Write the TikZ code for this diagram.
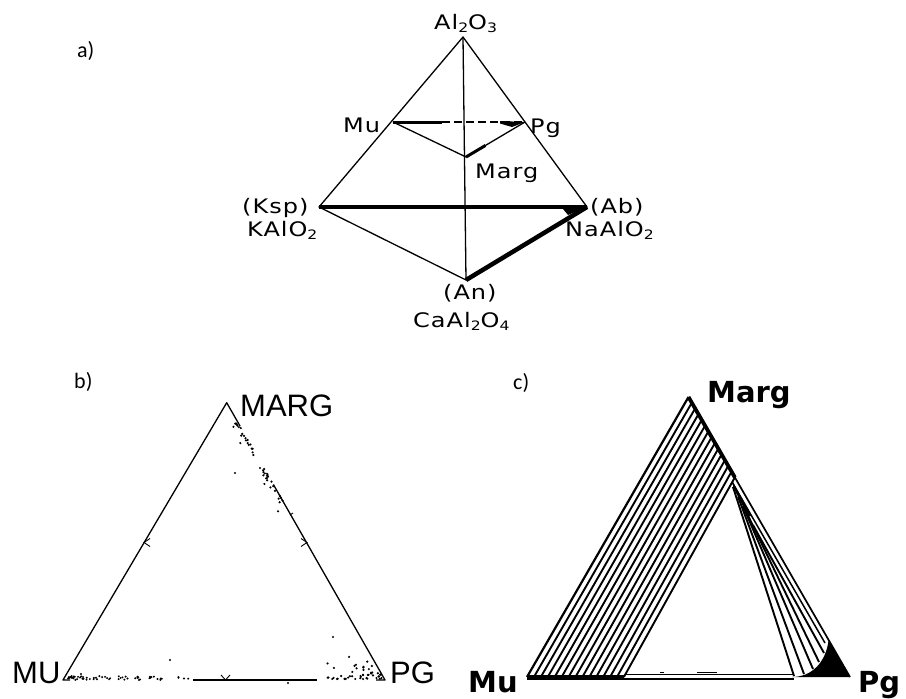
\documentclass[tikz,border=0pt]{standalone}
\usepackage{fontspec}
\setmainfont{Liberation Sans}
\newfontfamily\letfont[FakeStretch=1.2,LetterSpace=5]{DejaVu Sans}
\newfontfamily\bigfont{DejaVu Sans}
\newfontfamily\tagfont{Carlito}
\usetikzlibrary{calc}
\tikzset{
  edge/.style={line width=1.3pt, line join=round},
  tie/.style={line width=1.9pt},
  lbla/.style={anchor=base west, inner sep=0pt, font=\letfont\fontsize{20}{20}\selectfont},
  lblb/.style={anchor=base west, inner sep=0pt, font=\fontsize{31}{31}\selectfont},
  lblc/.style={anchor=base west, inner sep=0pt, font=\bigfont\bfseries\fontsize{29}{29}\selectfont},
  part/.style={anchor=base west, inner sep=0pt, font=\tagfont\fontsize{22}{22}\selectfont},
}
\newcommand{\lowidx}[1]{\raisebox{-0.35ex}{\fontsize{13}{13}\selectfont #1}}

\begin{document}
\begin{tikzpicture}[x=1pt, y=-1pt]
  \useasboundingbox (0,0) rectangle (906,699);

  % a) the tetrahedron Al2O3 - KAlO2 - NaAlO2 - CaAl2O4
  \coordinate (al) at (463,37);
  \coordinate (mu) at (393,122);
  \coordinate (pg) at (525,122);
  \coordinate (marg) at (466,157);
  \coordinate (ksp) at (319,207);
  \coordinate (ab) at (587,207);
  \coordinate (an) at (466,280);

  \draw[edge] (al) -- (ksp) -- (an) -- (ab) -- cycle;
  \draw[edge] (al) -- (an);
  \draw[edge] (mu) -- (marg) -- (pg);
  \draw[line width=4.5pt] (ksp) -- (ab);
  \draw[line width=4.5pt] (ab) -- (an);
  \fill (ab) -- (563,209) -- (568,215) -- cycle;
  \draw[line width=3pt] (mu) -- (442,122);
  \draw[edge, dash pattern=on 8pt off 4pt] (442,122) -- (pg);
  \fill (pg) -- (500,121) -- (500,123.5) -- (512,127) -- cycle;
  \draw[line width=3pt] (marg) -- ($(marg)!0.33!(pg)$);

  \node[part] (ta) at (77,57) {a)};
  \node[lbla] (lal) at (434,29) {Al\lowidx{2}O\lowidx{3}};
  \node[lbla] (lmu) at (343,132) {Mu};
  \node[lbla] (lpg) at (530,133) {Pg};
  \node[lbla] (lmarg) at (475,178) {Marg};
  \node[lbla] (lksp) at (242,213) {(Ksp)};
  \node[lbla] (lkal) at (247,236) {KAlO\lowidx{2}};
  \node[lbla] (lab) at (590,213) {(Ab)};
  \node[lbla] (lnal) at (565,236) {NaAlO\lowidx{2}};
  \node[lbla] (lan) at (443,299) {(An)};
  \node[lbla] (lcal) at (413,327) {CaAl\lowidx{2}O\lowidx{4}};

  % b) analyses plotted in Mu - Marg - Pg
  \coordinate (bm) at (226.7,402.7);
  \coordinate (bu) at (63,680);
  \coordinate (bp) at (385,680);

  \draw[edge] (70,680) -- (bu) -- (bm) -- ($(bm)!0.085!(bp)$);
  \draw[edge] ($(bm)!0.295!(bp)$) -- (bp) -- (376,680);
  \draw[edge] (193,680) -- (316.7,680);
  \draw[line width=0.9pt] (150,538.5) -- (144,542.5) -- (150,546.5);
  \draw[line width=0.9pt] (301,538.5) -- (307,542.5) -- (301,546.5);
  \draw[line width=0.9pt] (221,675) -- (225.5,680) -- (230,675);
  \draw[line width=0.9pt] (293,513) -- (290,515);

  \pgfmathsetseed{11}
  \foreach \k in {1,...,45} {
    \pgfmathsetmacro\t{0.07+0.31*rnd}
    \pgfmathsetmacro\d{10*rnd*rnd}
    \fill ($(bm)!\t!(bp) + (-0.868*\d, 0.496*\d)$) circle (1.2);
  }
  \foreach \k in {1,...,60} {
    \pgfmathsetmacro\px{68+125*rnd^1.6}
    \pgfmathsetmacro\py{680-4*rnd}
    \fill (\px,\py) circle (1.1);
  }
  \begin{scope}
    \clip (bm) -- (bu) -- (bp) -- cycle;
    \foreach \k in {1,...,50} {
      \pgfmathsetmacro\px{326+56*rnd^0.7}
      \pgfmathsetmacro\py{679-26*rnd*rnd}
      \fill (\px,\py) circle (1.2);
    }
  \end{scope}
  \foreach \x/\y in {235/473, 333/637, 170/660, 81/674, 83/677, 288/683} \fill (\x,\y) circle (1.2);

  \node[part] (tb) at (74,388) {b)};
  \node[lblb] (lbm) at (240,416) {MARG};
  \node[lblb] (lbu) at (12,683) {MU};
  \node[lblb] (lbp) at (390,683) {PG};

  % c) tie lines in Mu - Marg - Pg
  \coordinate (cm) at (688.5,397);
  \coordinate (cu) at (527,677);
  \coordinate (cp) at (850,677);
  \coordinate (cin) at ($(cm)!0.287!(cp)$);
  \coordinate (cbase) at ($(cu)!0.3!(cp)$);

  \foreach \i in {1,...,14}
    \draw[tie] ($(cu)!\i/14*0.3!(cp)$) -- ($(cm)!\i/14*0.287!(cp)$);
  \draw[line width=2.2pt] (cu) -- (cm);
  \draw[line width=1.7pt] (cm) -- (cp);
  \draw[line width=3.8pt] (cm) -- (cin);
  \draw[line width=5pt] (cu) -- (cbase);
  \draw[line width=1.2pt] ($(cbase)+(0,-2.5)$) -- (794,674.5);
  \draw[line width=1.2pt] ($(cbase)+(0,2)$) -- (794,679);
  \draw[line width=1pt] (660,672.5) -- (664,672.5);
  \draw[line width=1pt] (697,672.5) -- (717,672.5);
  \draw[line width=1.4pt] (700,679) -- (713,679);

  \draw[line width=1.5pt] (732,482) -- (825,643);
  \fill (733,482) -- (752,516) -- (748,516) -- (733,487) -- cycle;
  \foreach \k/\bx/\by in {0/794/676, 1/804/674, 2/813/669, 3/819/662, 4/824/653}
    \draw[tie] ({733+\k*5},{487+\k*9.5}) -- (\bx,\by);
  \fill (792,677) .. controls (812,677) and (826,662) .. (828.6,640) -- (cp) -- cycle;

  \node[part] (tc) at (513,389) {c)};
  \node[lblc] (lcm) at (707,402) {Marg};
  \node[lblc] (lcu) at (468,692) {Mu};
  \node[lblc] (lcp) at (858,692) {Pg};
\end{tikzpicture}
\end{document}
